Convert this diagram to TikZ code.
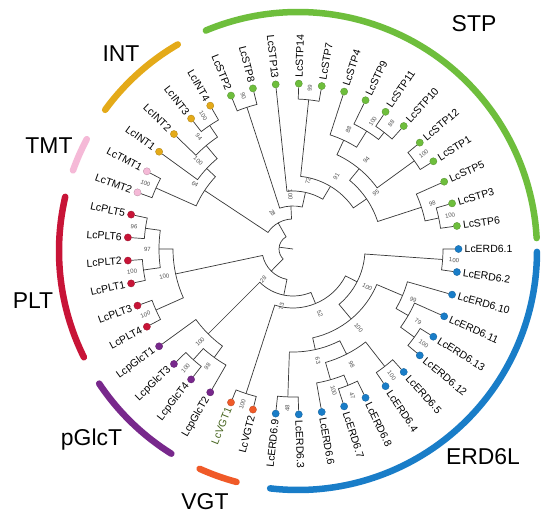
\documentclass[tikz,border=0pt]{standalone}
\usepackage{fontspec}
\setmainfont{Liberation Sans}
\pgfdeclarelayer{bg}
\pgfsetlayers{bg,main}
\definecolor{stpc}{RGB}{110,190,60}
\definecolor{intc}{RGB}{228,170,25}
\definecolor{tmtc}{RGB}{245,185,215}
\definecolor{pltc}{RGB}{200,20,55}
\definecolor{pglc}{RGB}{120,40,140}
\definecolor{vgtc}{RGB}{240,90,40}
\definecolor{erdc}{RGB}{25,125,200}
\definecolor{vgtt}{RGB}{70,100,30}
\definecolor{treec}{RGB}{55,55,55}
\definecolor{bootc}{RGB}{80,80,80}
\tikzset{
  br/.style={draw=treec, line width=0.7bp},
  tiplab/.style={inner sep=0pt, font=\fontsize{10.5}{12}\selectfont},
  boot/.style={inner sep=0pt, font=\fontsize{6}{7}\selectfont, text=bootc},
  tipdot/.style={circle, inner sep=0pt, minimum size=7.2bp, draw=#1!75!black, line width=0.3bp, fill=#1},
  grpbar/.style={line width=6.5bp, line cap=round, draw=#1},
  grplab/.style={font=\fontsize{23}{26}\selectfont, anchor=base, inner sep=0pt}
}
\newcommand\setang[2]{\expandafter\xdef\csname ang@#1\endcsname{#2}}
\newcommand\getang[1]{\csname ang@#1\endcsname}
\newcommand\tip[5][black]{%
  \setang{#2}{#3}%
  \node[tipdot=#5] (#2) at (#3:165.5bp) {};%
  \pgfmathtruncatemacro\myleft{and(#3>90,#3<270)}%
  \ifnum\myleft=1
    \pgfmathsetmacro\myrot{#3-180}%
    \node[tiplab, text=#1, anchor=east, rotate=\myrot] (l#2) at (#3:171.5bp) {#4};%
  \else
    \node[tiplab, text=#1, anchor=west, rotate=#3] (l#2) at (#3:171.5bp) {#4};%
  \fi}
\newcommand\clade[5]{%
  \pgfmathsetmacro\myca{\getang{#3}}%
  \pgfmathsetmacro\mycb{\getang{#4}}%
  \pgfmathsetmacro\mycm{(\myca+\mycb)/2}%
  \setang{#1}{\mycm}%
  \coordinate (#1) at (\mycm:#2bp);%
  \begin{pgfonlayer}{bg}
    \draw[br] (#3) -- (\myca:#2bp) arc[start angle=\myca, end angle=\mycb, radius=#2bp] -- (#4);
  \end{pgfonlayer}
  \pgfmathsetlengthmacro\mylr{(#2+11.5)*1bp}%
  \pgfmathtruncatemacro\myleft{and(\mycm>90,\mycm<270)}%
  \ifnum\myleft=1 \pgfmathsetmacro\myrot{\mycm-180}\else\pgfmathsetmacro\myrot{\mycm}\fi
  \node[boot, rotate=\myrot] (b#1) at (\mycm:\mylr) {#5};%
}
\begin{document}
\begin{tikzpicture}
\begin{pgfonlayer}{bg}
\fill[white] (-293bp,-269bp) rectangle (257bp,249bp);
\end{pgfonlayer}
\useasboundingbox (-293bp,-269bp) rectangle (257bp,249bp);
\coordinate (ctr) at (0,0);
% tips
\tip{t0}{360}{LcERD6.1}{erdc}
\tip{t1}{8}{LcSTP6}{stpc}
\tip{t2}{16}{LcSTP3}{stpc}
\tip{t3}{24}{LcSTP5}{stpc}
\tip{t4}{32}{LcSTP1}{stpc}
\tip{t5}{40}{LcSTP12}{stpc}
\tip{t6}{48}{LcSTP10}{stpc}
\tip{t7}{56}{LcSTP11}{stpc}
\tip{t8}{64}{LcSTP9}{stpc}
\tip{t9}{72}{LcSTP4}{stpc}
\tip{t10}{80}{LcSTP7}{stpc}
\tip{t11}{88}{LcSTP14}{stpc}
\tip{t12}{96}{LcSTP13}{stpc}
\tip{t13}{104}{LcSTP8}{stpc}
\tip{t14}{112}{LcSTP2}{stpc}
\tip{t15}{120}{LcINT4}{intc}
\tip{t16}{128}{LcINT3}{intc}
\tip{t17}{136}{LcINT2}{intc}
\tip{t18}{144}{LcINT1}{intc}
\tip{t19}{152}{LcTMT1}{tmtc}
\tip{t20}{160}{LcTMT2}{tmtc}
\tip{t21}{168}{LcPLT5}{pltc}
\tip{t22}{176}{LcPLT6}{pltc}
\tip{t23}{184}{LcPLT2}{pltc}
\tip{t24}{192}{LcPLT1}{pltc}
\tip{t25}{200}{LcPLT3}{pltc}
\tip{t26}{208}{LcPLT4}{pltc}
\tip{t27}{216}{LcpGlcT1}{pglc}
\tip{t28}{224}{LcpGlcT3}{pglc}
\tip{t29}{232}{LcpGlcT4}{pglc}
\tip{t30}{240}{LcpGlcT2}{pglc}
\tip[vgtt]{t31}{248}{LcVGT1}{vgtc}
\tip{t32}{256}{LcVGT2}{vgtc}
\tip{t33}{264}{LcERD6.9}{erdc}
\tip{t34}{272}{LcERD6.3}{erdc}
\tip{t35}{280}{LcERD6.6}{erdc}
\tip{t36}{288}{LcERD6.7}{erdc}
\tip{t37}{296}{LcERD6.8}{erdc}
\tip{t38}{304}{LcERD6.4}{erdc}
\tip{t39}{312}{LcERD6.5}{erdc}
\tip{t40}{320}{LcERD6.12}{erdc}
\tip{t41}{328}{LcERD6.13}{erdc}
\tip{t42}{336}{LcERD6.11}{erdc}
\tip{t43}{344}{LcERD6.10}{erdc}
\tip{t44}{352}{LcERD6.2}{erdc}
% clades
\clade{A}{149}{t2}{t1}{100}
\clade{B}{135}{A}{t3}{98}
\clade{C}{150}{t4}{t5}{100}
\clade{G}{148}{t6}{t7}{88}
\clade{F}{139}{G}{t8}{100}
\clade{E}{120}{F}{t9}{88}
\clade{D}{104}{C}{E}{94}
\clade{H}{89}{B}{D}{95}
\clade{X}{150}{t10}{t11}{99}
\clade{I}{73}{H}{X}{91}
\clade{J}{58}{I}{t12}{72}
\clade{Y}{149}{t13}{t14}{90}
\clade{K}{43}{J}{Y}{100}
\clade{N1}{149}{t15}{t16}{100}
\clade{N2}{135}{N1}{t17}{94}
\clade{N3}{118}{N2}{t18}{100}
\clade{TM}{150}{t19}{t20}{100}
\clade{Z}{106}{N3}{TM}{64}
\clade{L}{30}{K}{Z}{28}
\clade{P56}{149}{t21}{t22}{96}
\clade{P21}{151}{t23}{t24}{100}
\clade{P97}{134}{P56}{P21}{97}
\clade{P34}{150}{t25}{t26}{100}
\clade{PA}{120}{P97}{P34}{100}
\clade{G34}{149}{t28}{t29}{100}
\clade{G342}{134}{G34}{t30}{98}
\clade{GA}{120}{t27}{G342}{100}
\clade{V}{152}{t31}{t32}{100}
\clade{E93}{148}{t33}{t34}{48}
\clade{E78}{147}{t36}{t37}{47}
\clade{E678}{136}{t35}{E78}{100}
\clade{E45}{149}{t38}{t39}{100}
\clade{E98}{118}{E678}{E45}{98}
\clade{E63}{103}{E93}{E98}{63}
\clade{E1213}{150}{t40}{t41}{100}
\clade{E79}{133}{E1213}{t42}{79}
\clade{E99}{119}{E79}{t43}{99}
\clade{M}{91}{E63}{E99}{100}
\clade{E12}{150}{t44}{t0}{100}
\clade{Nn}{72}{M}{E12}{100}
\clade{O}{59}{V}{Nn}{52}
\clade{T73}{47}{GA}{O}{73}
\clade{Q}{31}{PA}{T73}{28}
% root
\pgfmathsetmacro\rl{\getang{L}}
\pgfmathsetmacro\rq{\getang{Q}}
\pgfmathsetmacro\rm{(\rl+\rq)/2}
\coordinate (root) at (\rm:14bp);
\begin{pgfonlayer}{bg}
\draw[br] (L) -- (\rl:14bp) arc[start angle=\rl, end angle=\rq, radius=14bp] -- (Q);
\draw[br] (root) -- (ctr);
\end{pgfonlayer}
% group bars
\begin{scope}[shift={(5bp,-2bp)}]
\draw[grpbar=stpc] (112.7:239bp) arc[start angle=112.7, end angle=3.1, radius=239bp];
\draw[grpbar=intc] (143.8:239bp) arc[start angle=143.8, end angle=120.2, radius=239bp];
\draw[grpbar=tmtc] (160.3:239bp) arc[start angle=160.3, end angle=152.1, radius=239bp];
\draw[grpbar=pltc] (206.4:239bp) arc[start angle=206.4, end angle=166.9, radius=239bp];
\draw[grpbar=pglc] (238:239bp) arc[start angle=238, end angle=213.7, radius=239bp];
\draw[grpbar=vgtc] (255.1:239bp) arc[start angle=255.1, end angle=245.7, radius=239bp];
\draw[grpbar=erdc] (359.8:239bp) arc[start angle=359.8, end angle=263.3, radius=239bp];
\end{scope}
% group labels
\node[grplab] (gSTP) at (181bp,217.8bp) {STP};
\node[grplab] (gINT) at (-172bp,187.8bp) {INT};
\node[grplab] (gTMT) at (-244bp,95.8bp) {TMT};
\node[grplab] (gPLT) at (-260bp,-59.2bp) {PLT};
\node[grplab] (gPGL) at (-201.5bp,-196.2bp) {pGlcT};
\node[grplab] (gVGT) at (-88bp,-260.7bp) {VGT};
\node[grplab] (gERD) at (190bp,-215.2bp) {ERD6L};
\end{tikzpicture}
\end{document}
